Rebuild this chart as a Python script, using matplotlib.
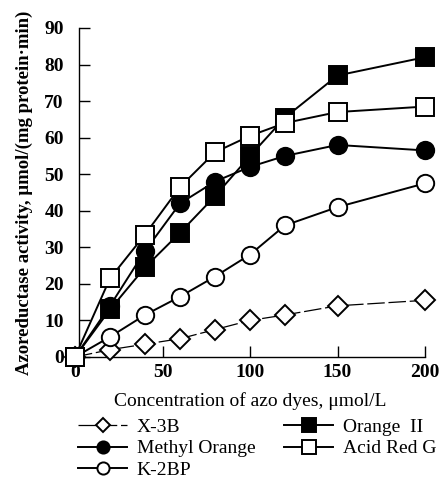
import matplotlib
matplotlib.use("Agg")
import matplotlib.pyplot as plt

# concentrations (umol/L)
conc = [0, 20, 40, 60, 80, 100, 120, 150, 200]

# azoreductase activity for each dye
x3b = [0, 2, 3.5, 5, 7.5, 10, 11.5, 14, 15.5]
orange2 = [0, 13, 24.5, 34, 44, 55, 65.5, 77, 82]
methyl_orange = [0, 14, 29, 42, 48, 52, 55, 58, 56.5]
acid_red_g = [0, 21.5, 33.5, 46.5, 56, 60.5, 64, 67, 68.5]
k2bp = [0, 5.5, 11.5, 16.5, 22, 28, 36, 41, 47.5]

xticks = [0, 50, 100, 150, 200]
yticks = [0, 10, 20, 30, 40, 50, 60, 70, 80, 90]

plt.rcParams['font.family'] = ['Liberation Serif', 'DejaVu Serif']

fig = plt.figure(figsize=(4.42, 4.83), dpi=100)
ax = fig.add_axes([0.1697, 0.2609, 0.7919, 0.6812])

common = dict(color='black', markeredgecolor='black', markeredgewidth=1.4, clip_on=False)

h1, = ax.plot(conc, x3b, marker='D', markersize=10, markerfacecolor='white',
              linewidth=0.9, linestyle=(0, (14, 3)), label='X-3B', zorder=3, **common)
h5, = ax.plot(conc, k2bp, marker='o', markersize=12.5, markerfacecolor='white',
              linewidth=1.4, label='K-2BP', zorder=4, **common)
h2, = ax.plot(conc, methyl_orange, marker='o', markersize=12.5, markerfacecolor='black',
              linewidth=1.4, label='Methyl Orange', zorder=5, **common)
h3, = ax.plot(conc, orange2, marker='s', markersize=13.5, markerfacecolor='black',
              linewidth=1.4, label='Orange  II', zorder=6, **common)
h4, = ax.plot(conc, acid_red_g, marker='s', markersize=13.5, markerfacecolor='white',
              linewidth=1.4, label='Acid Red G', zorder=7, **common)

ax.set_xlim(0, 200)
ax.set_ylim(0, 90)
ax.spines['top'].set_visible(False)
ax.spines['right'].set_visible(False)
ax.spines['left'].set_position(('data', 2.3))
ax.spines['left'].set_linewidth(1.0)
ax.spines['bottom'].set_linewidth(1.0)

ax.set_xticks(xticks)
ax.set_yticks(yticks)
ax.tick_params(axis='both', direction='in', length=8, width=1.0, labelsize=14)
ax.tick_params(axis='y', pad=11)
ax.tick_params(axis='x', pad=5)
for lbl in ax.get_xticklabels() + ax.get_yticklabels():
    lbl.set_fontweight('bold')

ax.set_xlabel('Concentration of azo dyes, μmol/L', fontsize=14, labelpad=8)
ax.set_ylabel('Azoreductase activity, μmol/(mg protein·min)',
              fontsize=13.5, fontweight='bold', labelpad=8)

fig.legend(handles=[h1, h2, h5, h3, h4], ncol=2, loc='upper left',
           bbox_to_anchor=(0.155, 0.154), frameon=False, fontsize=14,
           handlelength=2.5, handletextpad=0.5, columnspacing=1.5,
           labelspacing=0.2, borderpad=0.0, markerscale=0.7)

fig.savefig('out.png', dpi=100)
